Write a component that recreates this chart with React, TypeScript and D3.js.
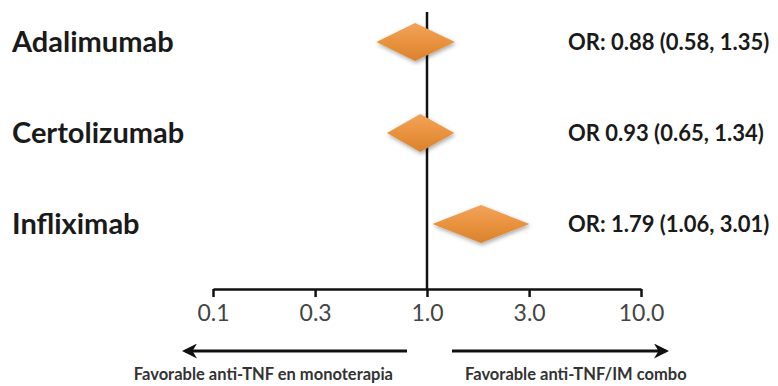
import React, { useEffect, useRef } from "react";
import * as d3 from "d3";

const drugs = ["Adalimumab", "Certolizumab", "Infliximab"];
const orValues = [0.88, 0.93, 1.79];
const ciLow = [0.58, 0.65, 1.06];
const ciHigh = [1.35, 1.34, 3.01];
const orLabels = ["OR: 0.88 (0.58, 1.35)", "OR 0.93 (0.65, 1.34)", "OR: 1.79 (1.06, 3.01)"];
const tickValues = [0.1, 0.3, 1, 3, 10];
const leftNote = "Favorable  anti-TNF en monoterapia";
const rightNote = "Favorable anti-TNF/IM combo";

const W = 778;
const H = 386;
const axisY = 289;
const font = "Lato, 'Open Sans', sans-serif";

const App = () => {
  const axisRef = useRef<SVGGElement>(null);

  const x = d3.scaleLog().domain([0.1, 10]).range([213, 641]);
  const y = d3.scalePoint().domain(drugs).range([42, 224]);
  const half = 19;

  useEffect(() => {
    const g = d3.select(axisRef.current);
    const axis = d3
      .axisBottom(x)
      .tickValues(tickValues)
      .tickFormat(d3.format(".1f") as any)
      .tickSize(8)
      .tickSizeOuter(0)
      .tickPadding(8);
    g.call(axis as any);
    g.select(".domain").attr("stroke", "#111").attr("stroke-width", 2.5);
    g.selectAll(".tick line").attr("stroke", "#111").attr("stroke-width", 2.5);
    g.selectAll(".tick text")
      .attr("fill", "#444")
      .style("font-family", font)
      .style("font-size", "23px");
  }, []);

  const diamond = (i: number) => {
    const cy = y(drugs[i]) as number;
    const pts = [
      [x(ciLow[i]), cy],
      [x(orValues[i]), cy - half],
      [x(ciHigh[i]), cy],
      [x(orValues[i]), cy + half],
    ];
    return "M" + pts.map((p) => p.join(",")).join("L") + "Z";
  };

  return (
    <svg width={W} height={H} style={{ position: "absolute", left: 0, top: 0 }}>
      <defs>
        <linearGradient id="dg" x1="0" y1="0" x2="0" y2="1">
          <stop offset="0%" stopColor="#F2A35A" />
          <stop offset="55%" stopColor="#E8913C" />
          <stop offset="100%" stopColor="#D9822E" />
        </linearGradient>
        <filter id="sh" x="-20%" y="-30%" width="140%" height="170%">
          <feDropShadow dx="1" dy="2" stdDeviation="2" floodColor="#000" floodOpacity="0.35" />
        </filter>
        <marker id="ah" viewBox="0 0 10 10" refX="8" refY="5" markerWidth="5" markerHeight="5" orient="auto-start-reverse">
          <path d="M0,0L10,5L0,10L3,5Z" fill="#111" />
        </marker>
      </defs>

      <line x1={x(1)} x2={x(1)} y1={12} y2={axisY} stroke="#111" strokeWidth={2.5} />
      <g ref={axisRef} transform={`translate(0,${axisY})`} />

      {drugs.map((d, i) => (
        <g key={d}>
          <text x={12} y={(y(d) as number) + 10} fontFamily={font} fontWeight={700} fontSize={29} fill="#1a1a1a">
            {d}
          </text>
          <path d={diamond(i)} fill="url(#dg)" filter="url(#sh)" />
          <text x={568} y={(y(d) as number) + 8} fontFamily={font} fontWeight={700} fontSize={22} fill="#1a1a1a">
            {orLabels[i]}
          </text>
        </g>
      ))}

      <line x1={407} x2={185} y1={351} y2={351} stroke="#111" strokeWidth={3} markerEnd="url(#ah)" />
      <line x1={452} x2={666} y1={351} y2={351} stroke="#111" strokeWidth={3} markerEnd="url(#ah)" />
      <text x={393} y={380} textAnchor="end" fontFamily={font} fontWeight={700} fontSize={16.5} fill="#333">
        {leftNote}
      </text>
      <text x={465} y={380} fontFamily={font} fontWeight={700} fontSize={16.5} fill="#333">
        {rightNote}
      </text>
    </svg>
  );
};

export default App;
